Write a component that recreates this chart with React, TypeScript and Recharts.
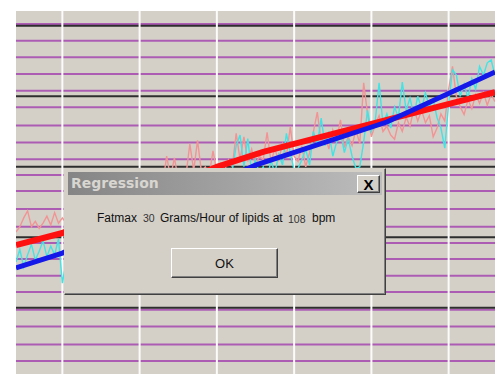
import { LineChart, Line, XAxis, YAxis, ReferenceLine } from 'recharts';

// sample grid in minutes (one sample every 15 s)
const sampleTimes: number[] = Array.from({ length: 125 }, (_, i) => 2 + i * 0.25);

const lipidTrace = [
  41.5, 43.0, 45.5, 47.5, 43.0, 44.5, 42.5, 44.0, 46.0, 43.5, 47.0, 44.0, 45.5,
  44.0, 46.5, 43.0, 47.5, 45.0, 48.0, 44.5, 49.0, 46.0, 50.0, 47.0, 48.5, 51.5,
  48.0, 52.0, 49.5, 53.0, 50.0, 54.0, 51.0, 55.0, 52.5, 56.0, 53.0, 57.0, 55.0,
  63.0, 57.0, 62.5, 56.5, 58.0, 57.5, 66.5, 59.0, 67.5, 58.5, 60.0, 57.5, 64.5,
  58.5, 61.0, 59.0, 62.0, 60.0, 69.5, 62.0, 68.5, 61.5, 65.0, 60.5, 63.0, 62.0,
  69.8, 61.5, 65.0, 62.0, 66.5, 63.0, 71.3, 63.0, 61.5, 66.0, 60.0, 64.0, 70.0,
  75.5, 67.0, 69.0, 65.0, 70.5, 67.5, 73.3, 65.5, 68.5, 66.0, 70.5, 66.5, 83.8,
  75.0, 68.5, 72.0, 74.5, 70.0, 71.5, 69.0, 67.8, 72.5, 70.0, 74.0, 71.5, 76.5,
  73.0, 76.0, 72.5, 74.5, 68.5, 71.0, 75.0, 73.0, 82.0, 88.5, 80.0, 77.0, 74.8,
  79.0, 76.5, 80.5, 78.0, 81.0, 77.5, 80.5, 78.5,
];

const hrTrace = [
  33.0, 36.5, 31.5, 35.0, 38.0, 33.5, 36.0, 39.0, 34.5, 37.5, 35.0, 39.5, 27.0,
  33.0, 37.5, 35.5, 40.0, 36.0, 41.0, 38.5, 42.5, 39.0, 44.0, 40.5, 45.0, 42.0,
  47.0, 43.0, 48.5, 45.0, 49.5, 46.5, 51.0, 47.5, 52.5, 49.0, 53.0, 50.0, 54.5,
  51.0, 55.5, 52.0, 56.0, 53.5, 57.0, 54.0, 56.5, 55.0, 58.0, 55.5, 57.5, 56.0,
  58.5, 55.5, 58.0, 57.0, 59.0, 66.0, 69.0, 60.0, 68.0, 58.5, 62.0, 58.0, 60.0,
  56.0, 62.0, 58.0, 63.5, 60.5, 69.5, 64.0, 59.0, 59.5, 62.0, 65.0, 60.5, 70.0,
  66.0, 73.8, 66.0, 70.0, 63.0, 67.0, 70.0, 64.0, 68.0, 63.0, 59.5, 60.0, 67.0,
  76.0, 70.0, 73.0, 83.8, 72.0, 75.0, 71.0, 77.0, 74.0, 84.0, 76.0, 79.5, 74.5,
  80.0, 76.5, 81.0, 77.0, 79.0, 74.0, 71.0, 65.3, 78.0, 87.5, 86.0, 80.0, 83.5,
  79.5, 85.0, 82.0, 88.5, 86.0, 89.5, 90.3, 86.0,
];

const lipidFitTimes = [2, 5, 15, 18, 26, 33];
const lipidFit = [37.8, 41.2, 60.0, 64.2, 73.3, 81.2];
const hrFitTimes = [2, 5, 17.5, 26, 33];
const hrFit = [31.3, 35.5, 60.5, 72.7, 86.9];

const minuteLines = [5, 10, 15, 20, 25, 30];
const majorLevels = [20, 40, 60, 80, 100];
const minorLevels = [
  4.9, 9.6, 14.7, 19.4, 24.5, 29.1, 33.8, 38.4, 43.0, 48.0, 53.1, 57.7, 62.1,
  66.9, 71.7, 76.9, 81.6, 86.3, 91.1, 95.75, 100.5,
];

const traceData = sampleTimes.map((t, i) => ({ t, lipids: lipidTrace[i], hr: hrTrace[i] }));
const lipidFitData = lipidFitTimes.map((t, i) => ({ t, fit: lipidFit[i] }));
const hrFitData = hrFitTimes.map((t, i) => ({ t, fit: hrFit[i] }));

const raised = {
  borderTop: '1px solid #ffffff',
  borderLeft: '1px solid #ffffff',
  borderRight: '1px solid #404040',
  borderBottom: '1px solid #404040',
  boxShadow: 'inset -1px -1px 0 #808080',
  background: '#d4d0c8',
  boxSizing: 'border-box' as const,
};

const msgFont = { fontFamily: '"Liberation Sans", Arial, sans-serif', fontSize: 12, color: '#111' };
const numFont = { fontFamily: '"Liberation Sans", Arial, sans-serif', fontSize: 10.5, color: '#333' };

export default function App() {
  return (
    <div style={{ position: 'absolute', left: 0, top: 0, width: 495, height: 374, background: '#fff', overflow: 'hidden' }}>
      <div style={{ position: 'absolute', left: 16, top: 11, width: 479, height: 363, background: '#d4d0c8' }} />
      <div style={{ position: 'absolute', left: 0, top: 0 }}>
        <LineChart width={495} height={374} data={traceData} margin={{ top: 11, right: 0, bottom: 0, left: 16 }}>
          <XAxis type="number" dataKey="t" domain={[2, 33]} allowDataOverflow hide />
          <YAxis type="number" domain={[1.2, 104.2]} allowDataOverflow hide />
          {minorLevels.map((v) => (
            <ReferenceLine key={`m${v}`} y={v} stroke="#ad5cb4" strokeWidth={2} />
          ))}
          {majorLevels.map((v) => (
            <ReferenceLine key={`M${v}`} y={v} stroke="#2e2e2e" strokeWidth={2} />
          ))}
          {minuteLines.map((v) => (
            <ReferenceLine key={`x${v}`} x={v} stroke="#fbfbfb" strokeWidth={2} />
          ))}
          <Line dataKey="lipids" stroke="#f29494" strokeWidth={1.4} dot={false} isAnimationActive={false} />
          <Line dataKey="hr" stroke="#40e4e4" strokeWidth={1.4} dot={false} isAnimationActive={false} />
          <Line data={lipidFitData} dataKey="fit" stroke="#ff1010" strokeWidth={6} dot={false} isAnimationActive={false} />
          <Line data={hrFitData} dataKey="fit" stroke="#1418e8" strokeWidth={5} dot={false} isAnimationActive={false} />
        </LineChart>
      </div>

      {/* message box */}
      <div style={{ position: 'absolute', left: 64, top: 168, width: 322, height: 127, ...raised, borderTop: '1px solid #d4d0c8', borderLeft: '1px solid #d4d0c8' }}>
        <div
          style={{
            position: 'absolute', left: 3, top: 3, width: 314, height: 23,
            background: 'linear-gradient(to right, #858585, #bdbdbd)',
          }}
        >
          <span style={{ position: 'absolute', left: 3, top: 3, fontFamily: '"DejaVu Sans", Verdana, sans-serif', fontWeight: 'bold', fontSize: 14, color: '#d8d6d0', whiteSpace: 'nowrap' }}>
            Regression
          </span>
          <div style={{ position: 'absolute', left: 289, top: 3, width: 23, height: 18, ...raised, display: 'flex', alignItems: 'center', justifyContent: 'center', fontFamily: '"Liberation Sans", Arial, sans-serif', fontWeight: 'bold', fontSize: 15, color: '#000', lineHeight: '15px' }}>
            X
          </div>
        </div>
        <span style={{ position: 'absolute', left: 32, top: 42, ...msgFont, whiteSpace: 'nowrap' }}>Fatmax</span>
        <span style={{ position: 'absolute', left: 78, top: 43, ...numFont, whiteSpace: 'nowrap' }}>30</span>
        <span style={{ position: 'absolute', left: 95, top: 42, ...msgFont, whiteSpace: 'nowrap' }}>Grams/Hour of lipids at</span>
        <span style={{ position: 'absolute', left: 223, top: 44, ...numFont, whiteSpace: 'nowrap' }}>108</span>
        <span style={{ position: 'absolute', left: 247, top: 42, ...msgFont, whiteSpace: 'nowrap' }}>bpm</span>
        <div style={{ position: 'absolute', left: 106, top: 79, width: 107, height: 30, ...raised, display: 'flex', alignItems: 'center', justifyContent: 'center', ...msgFont, fontSize: 13 }}>
          OK
        </div>
      </div>
    </div>
  );
}
